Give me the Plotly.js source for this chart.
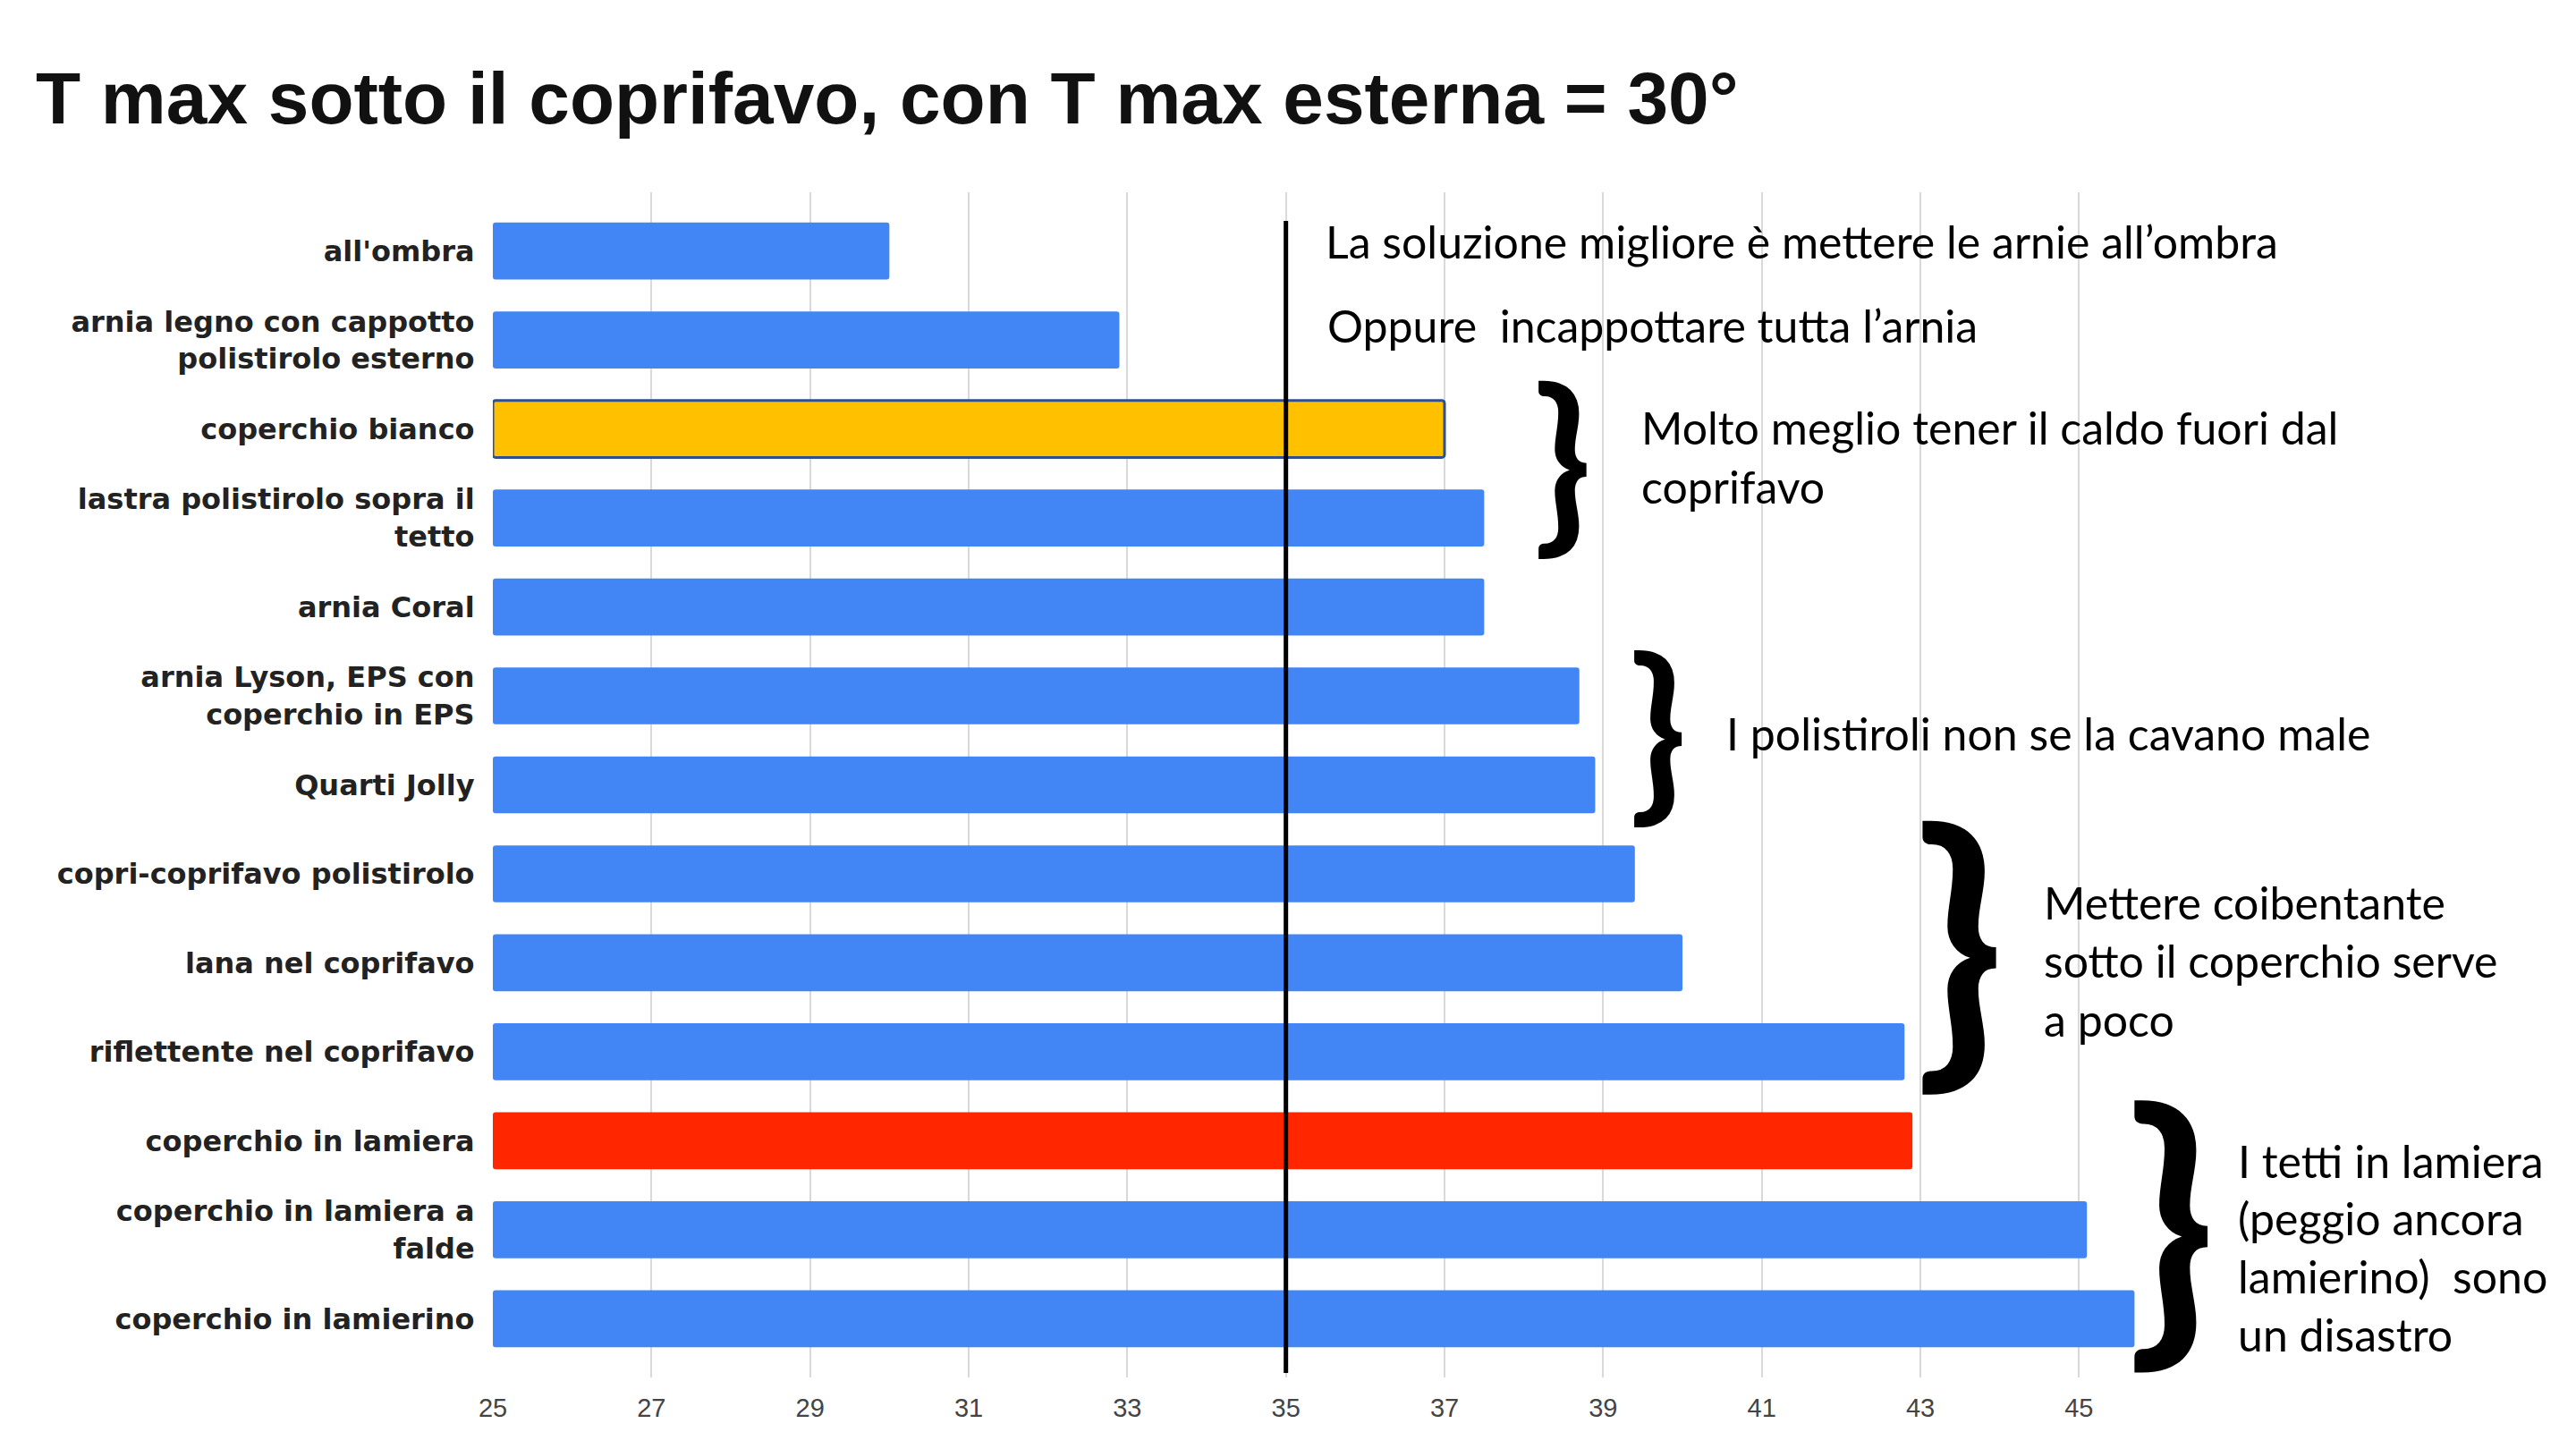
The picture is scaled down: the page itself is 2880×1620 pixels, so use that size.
<!DOCTYPE html>
<html>
<head>
<meta charset="utf-8">
<script src="https://cdn.plot.ly/plotly-3.0.1.min.js"></script>
<style>html,body{margin:0;padding:0;background:#fff;}#chart{width:2880px;height:1620px;}</style>
</head>
<body>
<div id="chart"></div>
<script>
// ---- data ----
const categories = [
  "all'ombra",
  "arnia legno con cappotto polistirolo esterno",
  "coperchio bianco",
  "lastra polistirolo sopra il tetto",
  "arnia Coral",
  "arnia Lyson, EPS con coperchio in EPS",
  "Quarti Jolly",
  "copri-coprifavo polistirolo",
  "lana nel coprifavo",
  "riflettente nel coprifavo",
  "coperchio in lamiera",
  "coperchio in lamiera a falde",
  "coperchio in lamierino"
];
const tickLabels = [
  "all'ombra",
  "arnia legno con cappotto<br>polistirolo esterno",
  "coperchio bianco",
  "lastra polistirolo sopra il<br>tetto",
  "arnia Coral",
  "arnia Lyson, EPS con<br>coperchio in EPS",
  "Quarti Jolly",
  "copri-coprifavo polistirolo",
  "lana nel coprifavo",
  "riflettente nel coprifavo",
  "coperchio in lamiera",
  "coperchio in lamiera a<br>falde",
  "coperchio in lamierino"
];
const tMax = [30.0, 32.9, 37.0, 37.5, 37.5, 38.7, 38.9, 39.4, 40.0, 42.8, 42.9, 45.1, 45.7];
const barColors = ["#4285F4","#4285F4","#FFC000","#4285F4","#4285F4","#4285F4","#4285F4","#4285F4","#4285F4","#4285F4","#FF2600","#4285F4","#4285F4"];
const barOutline = [0,0,3,0,0,0,0,0,0,0,0,0,0];
const xTicks = [25, 27, 29, 31, 33, 35, 37, 39, 41, 43, 45];
const xRange = [25, 46];
const refTemp = 35;
const titleText = "T max sotto il coprifavo, con T max esterna = 30°";

const notes = [
  ["La soluzione migliore è mettere le arnie all’ombra"],
  ["Oppure  incappottare tutta l’arnia"],
  ["Molto meglio tener il caldo fuori dal", "coprifavo"],
  ["I polistiroli non se la cavano male"],
  ["Mettere coibentante", "sotto il coperchio serve", "a poco"],
  ["I tetti in lamiera", "(peggio ancora", "lamierino)  sono", "un disastro"]
];

// ---- layout geometry (pixels) ----
const W = 2880, H = 1620;
const M = {l: 551, r: 467, t: 215, b: 80};
const plotW = W - M.l - M.r, plotH = H - M.t - M.b;
const px = x => (x - M.l) / plotW;
const py = y => (H - M.b - y) / plotH;

const noteFont = {family: "Lato, 'Open Sans', sans-serif", size: 50, color: "#000"};
const notePos = [
  {x: 1480, y: [270]},
  {x: 1482, y: [364]},
  {x: 1833, y: [478, 544]},
  {x: 1928, y: [820]},
  {x: 2283, y: [1009, 1074, 1140]},
  {x: 2500, y: [1298, 1362, 1427, 1492]}
];
const braces = [
  {x: 1712, yc: 526, h: 215},
  {x: 1819, yc: 826, h: 213},
  {x: 2138, yc: 1071, h: 330},
  {x: 2375, yc: 1383, h: 328}
];

const annotations = [];
notes.forEach((lines, i) => {
  lines.forEach((t, j) => {
    annotations.push({
      xref: "paper", yref: "paper", x: px(notePos[i].x), y: py(notePos[i].y[j]),
      xanchor: "left", yanchor: "middle", text: t, showarrow: false, font: noteFont
    });
  });
});
braces.forEach(b => {
  annotations.push({
    xref: "paper", yref: "paper", x: px(b.x), y: py(b.yc - 0.078 * b.h),
    xanchor: "left", yanchor: "middle", text: "}", showarrow: false,
    font: {family: "Lato, sans-serif", size: b.h, color: "#000", weight: 700}
  });
});

const trace = {
  type: "bar",
  orientation: "h",
  y: categories,
  x: tMax.map(v => v - xRange[0]),
  base: xRange[0],
  width: 0.64,
  marker: {color: barColors, line: {color: "#2F4F8F", width: barOutline}, cornerradius: 3},
  hoverinfo: "x+y"
};

const layout = {
  width: W, height: H,
  margin: M,
  paper_bgcolor: "#fff", plot_bgcolor: "#fff",
  showlegend: false,
  title: {
    text: titleText,
    x: 40 / W, xanchor: "left", xref: "container",
    y: 1 - 109 / H, yanchor: "middle", yref: "container",
    font: {family: "'Liberation Sans', Arial, sans-serif", size: 82, color: "#111", weight: 700}
  },
  xaxis: {
    range: xRange,
    tickmode: "array", tickvals: xTicks, ticktext: xTicks.map(String),
    showgrid: true, gridcolor: "#D9D9D9", gridwidth: 2,
    zeroline: false, showline: false,
    ticks: "outside", ticklen: 8, tickcolor: "rgba(0,0,0,0)",
    tickfont: {family: "'Liberation Sans', Arial, sans-serif", size: 29, color: "#444"},
    fixedrange: true
  },
  yaxis: {
    type: "category",
    range: [12.66, -0.66],
    tickmode: "array", tickvals: categories, ticktext: tickLabels,
    showgrid: false, zeroline: false, showline: false,
    ticks: "outside", ticklen: 13, tickcolor: "rgba(0,0,0,0)",
    tickfont: {family: "'DejaVu Sans', sans-serif", size: 32, color: "#222", weight: 700},
    fixedrange: true
  },
  shapes: [{
    type: "line", xref: "x", yref: "paper",
    x0: refTemp, x1: refTemp, y0: py(247), y1: py(1535),
    line: {color: "#000", width: 5}
  }],
  annotations: annotations
};

Plotly.newPlot("chart", [trace], layout, {staticPlot: true, displayModeBar: false});
</script>
</body>
</html>
